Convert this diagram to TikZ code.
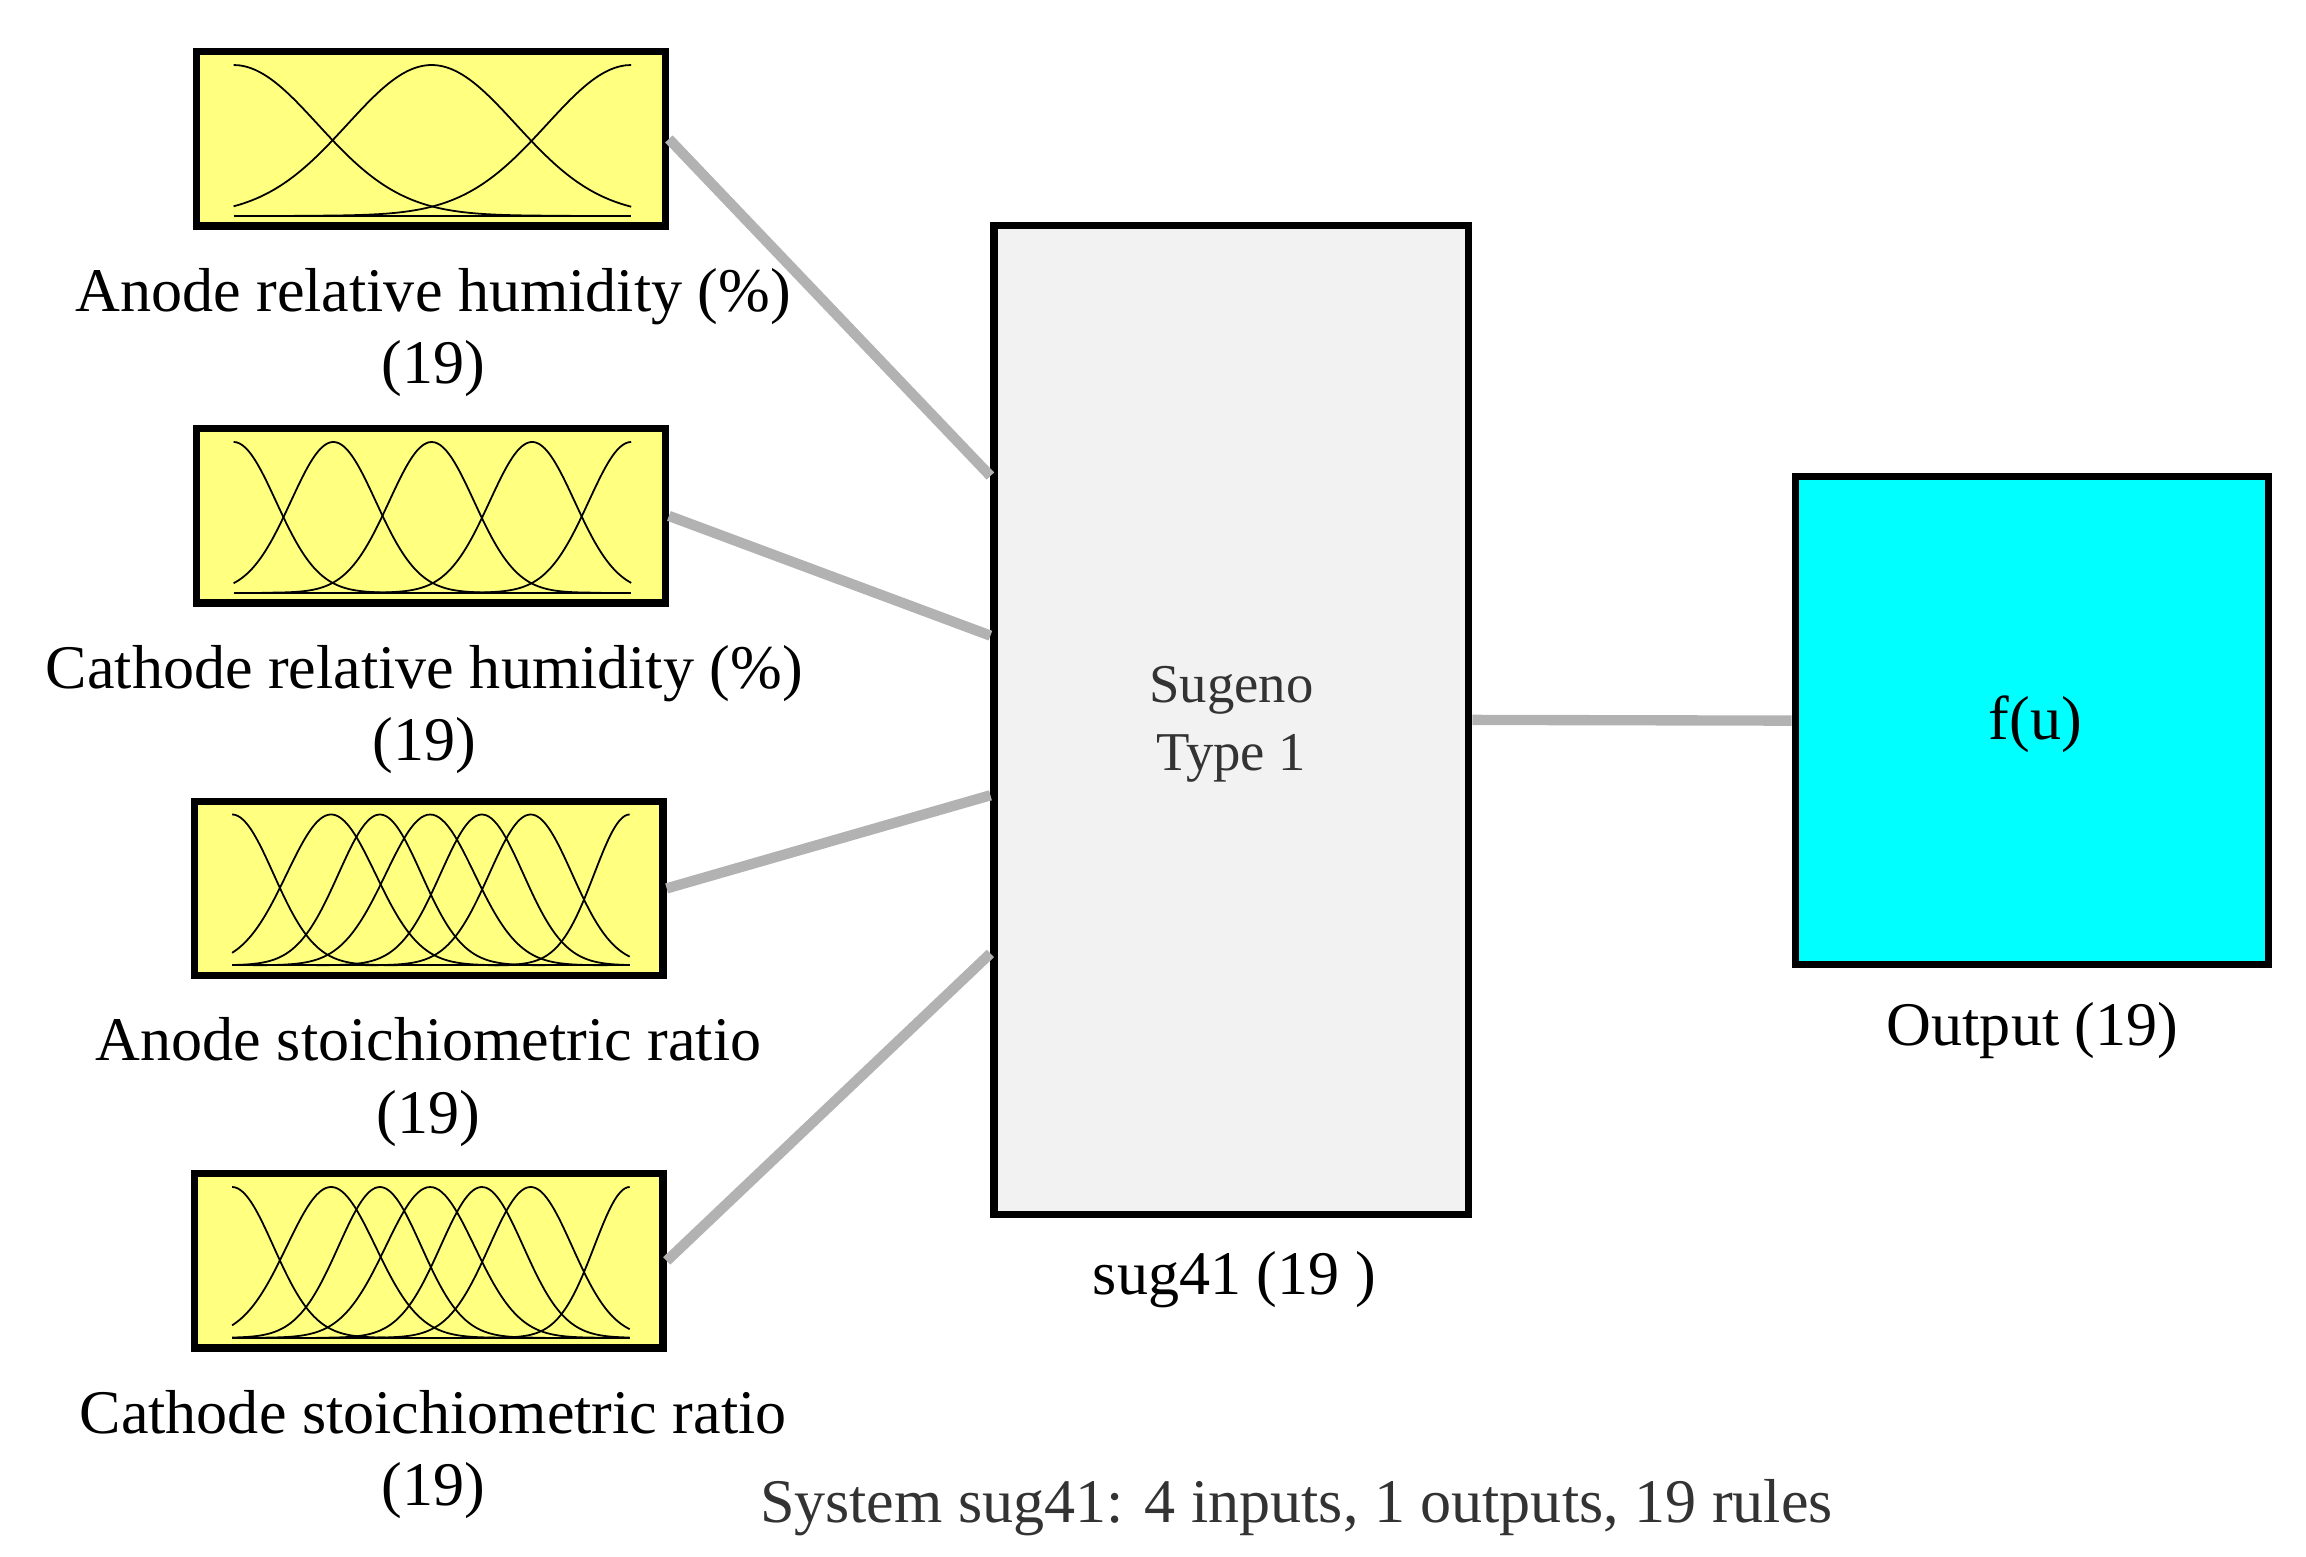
\documentclass[tikz,border=0pt]{standalone}
\usepackage{fontspec}
\setmainfont{Liberation Serif}
\definecolor{aqua}{RGB}{0,255,255}
\definecolor{mfy}{RGB}{255,255,128}
\newcommand\mfcurve[4]{% center, sigma, bottom y, x offset
  \pgfmathsetmacro\mflo{max(158,#1-4*#2)+#4}%
  \pgfmathsetmacro\mfhi{min(427,#1+4*#2)+#4}%
  \draw[mf] plot[domain=\mflo:\mfhi,samples=60,smooth] (\x,{#3-102*exp(-0.5*((\x-#4-#1)/#2)^2)});}
\begin{document}
\begin{tikzpicture}[x=1pt,y=-1pt,
  inbox/.style={draw=black,line width=5pt,fill=mfy,minimum width=317pt,minimum height=118pt,inner sep=0pt},
  lbl/.style={font=\fontsize{42}{49}\selectfont,align=center,inner sep=0pt},
  con/.style={draw=black!30,line width=7pt},
  mf/.style={black,line width=1.2pt}]
\useasboundingbox (0,0) rectangle (1560,1053);
\node[inbox] (i1) at (291.5,94) {};
\node[inbox] (i2) at (291.5,349) {};
\node[inbox] (i3) at (290,601) {};
\node[inbox] (i4) at (290,853) {};
\node[draw=black,line width=5pt,fill=black!5,minimum width=321pt,minimum height=669pt,inner sep=0pt] (s) at (833,487) {};
\node[draw=black,line width=5pt,fill=aqua,minimum width=320pt,minimum height=330pt,inner sep=0pt] (o) at (1374.5,487.5) {};
% membership functions
\foreach \c in {158,292,427}{\mfcurve{\c}{57}{146}{0}}
\draw[mf] (158,146)--(427,146);
\foreach \c in {158,225.5,292,360,427}{\mfcurve{\c}{28.7}{401}{0}}
\draw[mf] (158,401)--(427,401);
\foreach \yy in {653,905}{
  \foreach \c/\s in {158/28,225/30,258/28,292/30,327/28,360/28,427/24}{\mfcurve{\c}{\s}{\yy}{-1}}
  \draw[mf] (157,\yy)--(426,\yy);}
% labels
\node[lbl] (l1) at (293,225) {Anode relative humidity (\%)\\(19)};
\node[lbl] (l2) at (287,480) {Cathode relative humidity (\%)\\(19)};
\node[lbl] (l3) at (290,732) {Anode stoichiometric ratio\\(19)};
\node[lbl] (l4) at (293,984) {Cathode stoichiometric ratio\\(19)};
\node[lbl,font=\fontsize{37}{46}\selectfont,text=black!80] (st) at (833,490) {Sugeno\\Type 1};
\node[lbl] (sl) at (835,866) {sug41 (19 )};
\node[lbl] (fu) at (1377,490) {f(u)};
\node[lbl] (ol) at (1375,697) {Output (19)};
\node[lbl,text=black!80] (sys) at (877,1020) {System sug41: 4 inputs, 1 outputs, 19 rules};
% connectors
\coordinate (a1) at (670,322); \coordinate (a2) at (670,430);
\coordinate (a3) at (670,538); \coordinate (a4) at (670,645);
\draw[con] (i1.east) -- (a1);
\draw[con] (i2.east) -- (a2);
\draw[con] (i3.east) -- (a3);
\draw[con] (i4.east) -- (a4);
\draw[con] (s.east) -- (o.west);
\end{tikzpicture}
\end{document}
